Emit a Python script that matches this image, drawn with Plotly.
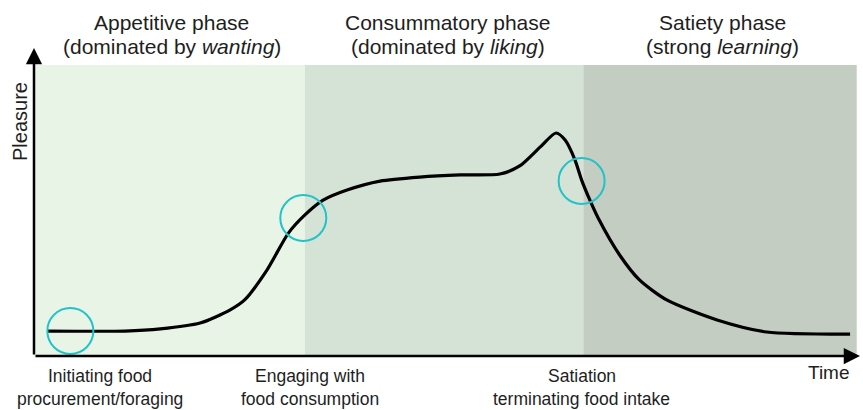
import plotly.graph_objects as go

# ---------------- data ----------------
phase_titles = ["Appetitive phase", "Consummatory phase", "Satiety phase"]
phase_subtitles = ["(dominated by <i>wanting</i>)", "(dominated by <i>liking</i>)", "(strong <i>learning</i>)"]
phase_start = [0.0, 32.8, 66.5]
phase_end = [32.8, 66.5, 99.6]
phase_top = 94.5
phase_colors = ["#e8f5e6", "#d5e3d7", "#c3cdc1"]
phase_title_x = [16.7, 50.1, 83.4]

curve_time = [1.7, 11.0, 15.3, 20.1, 23.7, 25.5, 28.2, 30.8, 32.8, 35.0, 37.9, 41.9,
              46.7, 51.6, 56.4, 58.8, 61.3, 63.2, 64.3, 65.5, 66.3, 67.3, 68.3,
              70.9, 73.3, 76.6, 82.7, 88.7, 98.8]
curve_pleasure = [8.1, 8.1, 8.8, 10.7, 14.9, 18.2, 27.9, 39.9, 45.8, 50.6, 53.9, 56.8,
                  58.1, 58.8, 59.1, 61.7, 67.9, 72.4, 70.1, 63.6, 57.1, 50.6, 44.8,
                  32.8, 24.7, 18.2, 11.7, 7.8, 7.1]

event_time = [4.4, 32.6, 66.3]
event_pleasure = [8.1, 44.8, 56.8]
event_line1 = ["Initiating food", "Engaging with", "Satiation"]
event_line2 = ["procurement/foraging", "food consumption", "terminating food intake"]
event_label_x = [8.0, 33.4, 66.3]

x_title = "Time"
y_title = "Pleasure"

# ---------------- figure ----------------
FONT = "Liberation Sans, Arial, sans-serif"
TXT = "#1e1e1e"
W, H = 863, 410
ML, MR, MT, MB = 34, 3, 48, 54
PH = H - MT - MB


def py(pix):
    return (H - MB - pix) / PH


fig = go.Figure()

shapes = []
for s, e, c in zip(phase_start, phase_end, phase_colors):
    shapes.append(dict(type="rect", xref="x", yref="y", x0=s, x1=e, y0=0, y1=phase_top,
                       fillcolor=c, line=dict(width=0), layer="below"))

fig.add_trace(go.Scatter(x=curve_time, y=curve_pleasure, mode="lines",
                         line=dict(color="black", width=3.2, shape="spline", smoothing=0.7),
                         hoverinfo="skip", showlegend=False))
fig.add_trace(go.Scatter(x=event_time, y=event_pleasure, mode="markers",
                         marker=dict(symbol="circle-open", size=46, color="#22c3c8",
                                     line=dict(width=2)),
                         hoverinfo="skip", showlegend=False))

ann = []
# axes arrows
ann.append(dict(xref="paper", yref="paper", x=0, y=1, ax=0, ay=PH, axref="pixel", ayref="pixel",
                showarrow=True, arrowhead=2, arrowsize=1.3, arrowwidth=2.5, arrowcolor="black", text=""))
ann.append(dict(xref="paper", yref="paper", x=1, y=0, ax=-(W - ML - MR), ay=0,
                showarrow=True, arrowhead=2, arrowsize=1.3, arrowwidth=2.5, arrowcolor="black", text=""))

for t, s, xc in zip(phase_titles, phase_subtitles, phase_title_x):
    ann.append(dict(xref="x", yref="paper", x=xc, y=py(23), text=t, showarrow=False,
                    font=dict(family=FONT, size=21, color=TXT), xanchor="center", yanchor="middle"))
    ann.append(dict(xref="x", yref="paper", x=xc, y=py(47), text=s, showarrow=False,
                    font=dict(family=FONT, size=21, color=TXT), xanchor="center", yanchor="middle"))

for l1, l2, xc in zip(event_line1, event_line2, event_label_x):
    ann.append(dict(xref="x", yref="paper", x=xc, y=py(376), text=l1, showarrow=False,
                    font=dict(family=FONT, size=17.5, color=TXT), xanchor="center", yanchor="middle"))
    ann.append(dict(xref="x", yref="paper", x=xc, y=py(399), text=l2, showarrow=False,
                    font=dict(family=FONT, size=17.5, color=TXT), xanchor="center", yanchor="middle"))

ann.append(dict(xref="x", yref="paper", x=96.2, y=py(372), text=x_title, showarrow=False,
                font=dict(family=FONT, size=19, color=TXT), xanchor="center", yanchor="middle"))
ann.append(dict(xref="paper", yref="paper", x=(20 - ML) / (W - ML - MR), y=py(122), text=y_title,
                showarrow=False, textangle=-90,
                font=dict(family=FONT, size=20, color=TXT), xanchor="center", yanchor="middle"))

fig.update_layout(
    width=W, height=H,
    margin=dict(l=ML, r=MR, t=MT, b=MB, pad=0),
    paper_bgcolor="white", plot_bgcolor="white",
    xaxis=dict(range=[0, 100], visible=False, fixedrange=True),
    yaxis=dict(range=[0, 100], visible=False, fixedrange=True),
    shapes=shapes, annotations=ann, showlegend=False,
)

fig.write_html("out.html", config={"displayModeBar": False},
               post_script="document.body.style.margin='0';document.body.style.overflow='hidden';")
